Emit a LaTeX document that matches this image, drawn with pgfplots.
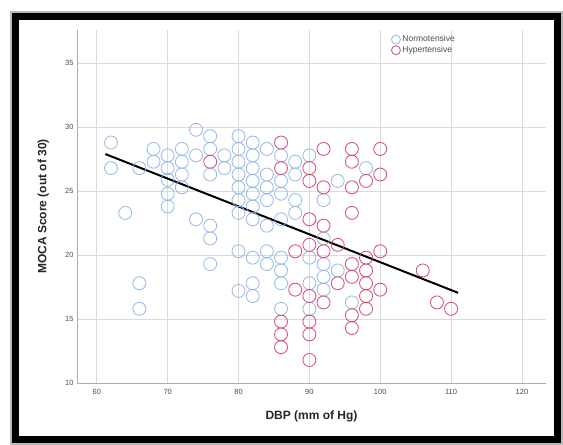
\documentclass[border=0pt]{standalone}
\usepackage{fontspec}
\setmainfont{Liberation Sans}
\usepackage{pgfplots}
\pgfplotsset{compat=1.18}
\definecolor{normo}{RGB}{135,175,230}
\definecolor{hyper}{RGB}{208,50,95}
\definecolor{gridc}{RGB}{218,218,218}

\begin{document}
\begin{tikzpicture}
\useasboundingbox (-77pt,-62pt) rectangle (486pt,383pt);
\fill[white] (-77pt,-62pt) rectangle (486pt,383pt);
\begin{axis}[
  at={(0pt,0pt)}, anchor=south west,
  scale only axis,
  width=469pt, height=353pt,
  xmin=57.2, xmax=123.4, ymin=10, ymax=37.6,
  axis x line=bottom, axis y line=left,
  axis line style={-, draw=gray!65, line width=0.8pt},
  xtick={60,70,...,120}, ytick={10,15,...,35},
  grid=major, major grid style={gridc, line width=0.8pt},
  major tick length=0pt,
  tick label style={font=\fontsize{7.5}{8}\selectfont, text=black!70},
  xticklabel style={yshift=-3pt},
  /pgf/number format/assume math mode=true,
  xlabel={DBP (mm of Hg)},
  ylabel={MOCA Score (out of 30)},
  label style={font=\bfseries\fontsize{12}{14}\selectfont, text=black!85},
  xlabel style={at={(axis description cs:0.5,-0.095)}, anchor=center},
  ylabel style={at={(axis description cs:-0.072,0.5)}, anchor=center},
  legend style={at={(axis description cs:0.67,0.99)}, anchor=north west,
    draw=none, fill=none, inner sep=0pt, row sep=-1pt,
    font=\fontsize{8.5}{9.5}\selectfont, text=black!70},
  legend cell align=left,
  legend image code/.code={\draw[#1, mark size=4.5pt] plot coordinates {(0.1cm,0cm)};},
]
\addplot[only marks, mark=o, mark size=6.5pt, line width=0.85pt, normo, draw opacity=0.85]
coordinates {
(62,28.8) (62,26.8) (64,23.3) (66,26.8) (66,17.8) (66,15.8)
(68,28.3) (68,27.3)
(70,27.8) (70,26.8) (70,25.9) (70,24.8) (70,23.8)
(72,28.3) (72,27.3) (72,26.3) (72,25.3)
(74,29.8) (74,27.8) (74,22.8)
(76,29.3) (76,28.3) (76,26.3) (76,22.3) (76,21.3) (76,19.3)
(78,27.8) (78,26.8)
(80,29.3) (80,28.3) (80,27.3) (80,26.3) (80,25.3) (80,24.3) (80,23.3) (80,20.3) (80,17.2)
(82,28.8) (82,27.8) (82,26.8) (82,25.8) (82,24.8) (82,23.8) (82,22.8) (82,19.8) (82,17.8) (82,16.8)
(84,28.3) (84,26.3) (84,25.3) (84,24.3) (84,22.3) (84,20.3) (84,19.3)
(86,27.8) (86,25.8) (86,24.8) (86,22.8) (86,19.8) (86,18.8) (86,17.8) (86,15.8)
(88,27.3) (88,26.3) (88,24.3) (88,23.3)
(90,27.8) (90,19.8) (90,17.8) (90,15.8)
(92,24.3) (92,21.3) (92,19.3) (92,18.3) (92,17.3)
(94,25.8) (94,18.8)
(96,16.3) (98,26.8)
};
\addlegendentry{Normotensive}
\addplot[only marks, mark=o, mark size=6.5pt, line width=0.85pt, hyper, draw opacity=0.85]
coordinates {
(76,27.3)
(86,28.8) (86,26.8) (86,14.8) (86,13.8) (86,12.8)
(88,20.3) (88,17.3)
(90,26.8) (90,25.8) (90,22.8) (90,20.8) (90,16.8) (90,14.8) (90,13.8) (90,11.8)
(92,28.3) (92,25.3) (92,22.3) (92,20.3) (92,16.3)
(94,20.8) (94,17.8)
(96,28.3) (96,27.3) (96,25.3) (96,23.3) (96,19.3) (96,18.3) (96,15.3) (96,14.3)
(98,25.8) (98,19.8) (98,18.8) (98,17.8) (98,16.8) (98,15.8)
(100,28.3) (100,26.3) (100,20.3) (100,17.3)
(106,18.8) (108,16.3) (110,15.8)
};
\addlegendentry{Hypertensive}
\addplot[black, line width=2pt, forget plot] coordinates {(61.2,27.9) (111,17.05)};
\end{axis}
\draw[gray!55, line width=2pt] (-65.5pt,-60.5pt) rectangle (484.5pt,370.5pt);
\draw[black, line width=7pt] (-61pt,-56pt) rectangle (480pt,366pt);
\end{tikzpicture}
\end{document}
